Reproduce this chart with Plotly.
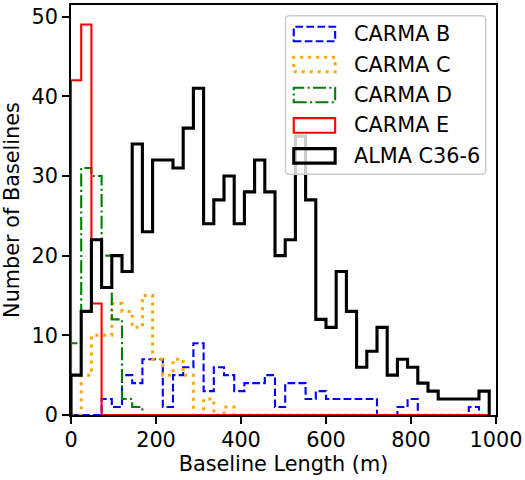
import plotly.graph_objects as go

# ---------------- data (counts per common bin) ----------------
bin_edges = [0, 24, 48, 72, 96, 120, 144, 168, 192, 216, 240, 264, 288, 312,
             336, 360, 384, 408, 432, 456, 480, 504, 528, 552, 576, 600, 624,
             648, 672, 696, 720, 744, 768, 792, 816, 840, 864, 888, 912, 936,
             960, 984]

carma_b = [0, 0, 0, 2, 1, 5, 4, 7, 7, 1, 5, 6, 9, 3, 6, 5, 3, 4, 4, 5, 1, 4,
           4, 2, 3, 2, 2, 2, 2, 2, 0, 0, 1, 2, 0, 0, 0, 0, 0, 1, 0]
carma_c = [0, 5, 10, 10, 14, 13, 11, 15, 7, 5, 7, 5, 0, 2, 0, 1, 0, 0, 0, 0,
           0, 0, 0, 0, 0, 0, 0, 0, 0, 0, 0, 0, 0, 0, 0, 0, 0, 0, 0, 0, 0]
carma_d = [9, 31, 30, 20, 12, 2, 1, 0, 0, 0, 0, 0, 0, 0, 0, 0, 0, 0, 0, 0, 0,
           0, 0, 0, 0, 0, 0, 0, 0, 0, 0, 0, 0, 0, 0, 0, 0, 0, 0, 0, 0]
carma_e = [42, 49, 14, 0, 0, 0, 0, 0, 0, 0, 0, 0, 0, 0, 0, 0, 0, 0, 0, 0, 0,
           0, 0, 0, 0, 0, 0, 0, 0, 0, 0, 0, 0, 0, 0, 0, 0, 0, 0, 0, 0]
alma = [5, 13, 22, 16, 20, 18, 34, 23, 32, 32, 31, 36, 41, 24, 27, 30, 24, 28,
        32, 28, 20, 22, 35, 27, 12, 11, 18, 13, 6, 8, 11, 5, 7, 6, 4, 3, 2, 2,
        2, 2, 3]

series_names = ["CARMA B", "CARMA C", "CARMA D", "CARMA E", "ALMA C36-6"]
series_counts = [carma_b, carma_c, carma_d, carma_e, alma]
series_colors = ["#0000ff", "#ffa500", "#008000", "#ff0000", "#000000"]
series_widths = [2.1, 3.0, 2.1, 2.1, 3.1]
series_dash = ["7.7px,3.3px", "3px,5px", "13px,3.3px,2.1px,3.3px", "solid", "solid"]

x_ticks = [0, 200, 400, 600, 800, 1000]
y_ticks = [0, 10, 20, 30, 40, 50]

# ---------------- layout geometry ----------------
W, H = 525, 480
ML, MR, MT, MB = 71, 27, 3, 65
PW, PH = W - ML - MR, H - MT - MB
FONT = "DejaVu Sans"
FS = 20.8


def px(x):
    return (x - ML) / PW


def py(y):
    return (H - MB - y) / PH


fig = go.Figure()
for name, counts, col, lw, dash in zip(series_names, series_counts,
                                       series_colors, series_widths, series_dash):
    xs = [bin_edges[0]] + list(bin_edges)
    ys = [0] + list(counts) + [0]
    fig.add_trace(go.Scatter(x=xs, y=ys, mode="lines", name=name,
                             line=dict(color=col, width=lw, dash=dash, shape="hv"),
                             showlegend=False, hoverinfo="skip"))

# ---------------- hand-made legend (matplotlib-style patches) ----------------
shapes = []
L, R, T, B = 286.5, 487.6, 13.8, 173.1
r = 4.0
rx, ry = r / PW, r / PH
x0, x1, y0, y1 = px(L), px(R), py(B), py(T)
path = (f"M{x0+rx},{y0} L{x1-rx},{y0} Q{x1},{y0} {x1},{y0+ry} "
        f"L{x1},{y1-ry} Q{x1},{y1} {x1-rx},{y1} L{x0+rx},{y1} "
        f"Q{x0},{y1} {x0},{y1-ry} L{x0},{y0+ry} Q{x0},{y0} {x0+rx},{y0} Z")
shapes.append(dict(type="path", path=path, xref="paper", yref="paper",
                   fillcolor="rgba(255,255,255,0.8)",
                   line=dict(color="#cccccc", width=1.5), layer="above"))
annotations = []
row_y = [32.2, 62.8, 93.4, 124.0, 154.6]
for yc, name, col, lw, dash in zip(row_y, series_names, series_colors,
                                   series_widths, series_dash):
    shapes.append(dict(type="rect", xref="paper", yref="paper",
                       x0=px(294.8), x1=px(336.4), y0=py(yc + 7.3), y1=py(yc - 7.3),
                       line=dict(color=col, width=lw, dash=dash),
                       fillcolor="rgba(0,0,0,0)", layer="above"))
    annotations.append(dict(text=name, xref="paper", yref="paper",
                            x=px(353.0), y=py(yc), xanchor="left", yanchor="middle",
                            showarrow=False,
                            font=dict(family=FONT, size=FS, color="black")))

axis_common = dict(showgrid=False, zeroline=False, showline=True, mirror=True,
                   linecolor="black", linewidth=1.6, ticks="outside", ticklen=7,
                   tickwidth=1.6, tickcolor="black",
                   tickfont=dict(family=FONT, size=FS, color="black"))

fig.update_layout(
    width=W, height=H,
    margin=dict(l=ML, r=MR, t=MT, b=MB, pad=0),
    paper_bgcolor="white", plot_bgcolor="white",
    xaxis=dict(range=[0, 1000], tickvals=x_ticks, ticklabelstandoff=-2,
               **axis_common,
               title=dict(text="Baseline Length (m)", standoff=6,
                          font=dict(family=FONT, size=FS, color="black"))),
    yaxis=dict(range=[0, 51.45], tickvals=y_ticks, **axis_common,
               title=dict(text="Number of Baselines", standoff=6,
                          font=dict(family=FONT, size=FS, color="black"))),
    shapes=shapes, annotations=annotations, showlegend=False,
)

fig.write_html("out.html")
